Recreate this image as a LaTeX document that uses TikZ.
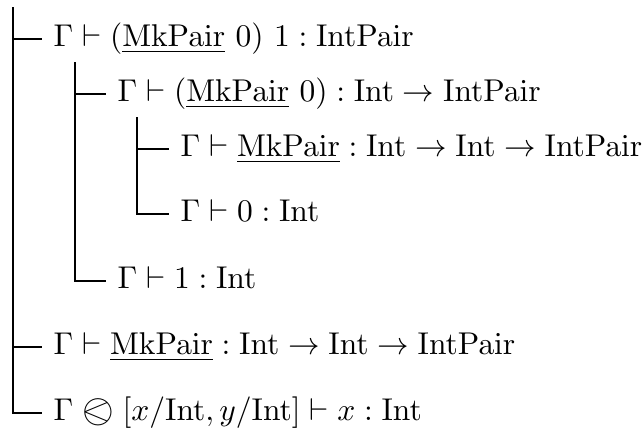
\documentclass[tikz,border=0pt]{standalone}
\usepackage{stmaryrd}
\usepackage{graphicx}
\usetikzlibrary{calc}
\begin{document}
\begin{tikzpicture}[x=0.3226pt,y=-0.3226pt,
  judg/.style={anchor=base west,inner sep=0pt,scale=1.016},
  tree/.style={line width=0.4pt}]
\useasboundingbox (0,0) rectangle (642,428);
\newcommand{\mkp}{\underline{\mathrm{MkPair}}}
\newcommand{\olt}{\mathrel{\raisebox{-0.12ex}{\scalebox{1.3}{$\olessthan$}}}}
\coordinate (v0) at (13,7);
\coordinate (v1) at (75,62);
\coordinate (v2) at (137,117);
\node[judg] (j1) at (53,46.75) {$\Gamma \vdash (\mkp\ 0)\ 1 : \mathrm{IntPair}$};
\node[judg] (j2) at (117,101.75) {$\Gamma \vdash (\mkp\ 0) : \mathrm{Int} \to \mathrm{IntPair}$};
\node[judg] (j3) at (180,156.75) {$\Gamma \vdash \mkp : \mathrm{Int} \to \mathrm{Int} \to \mathrm{IntPair}$};
\node[judg] (j4) at (180,221.75) {$\Gamma \vdash 0 : \mathrm{Int}$};
\node[judg] (j5) at (117,288.75) {$\Gamma \vdash 1 : \mathrm{Int}$};
\node[judg] (j6) at (53,354.75) {$\Gamma \vdash \mkp : \mathrm{Int} \to \mathrm{Int} \to \mathrm{IntPair}$};
\node[judg] (j7) at (53,420.75) {$\Gamma \olt [x/\mathrm{Int}, y/\mathrm{Int}] \vdash x : \mathrm{Int}$};
\foreach \v/\j in {v0/j1,v1/j2,v2/j3,v2/j4,v1/j5,v0/j6,v0/j7}
  \draw[tree] (\v) |- ($(\j.base west)+(-10.5,-7.75)$);
\end{tikzpicture}
\end{document}
